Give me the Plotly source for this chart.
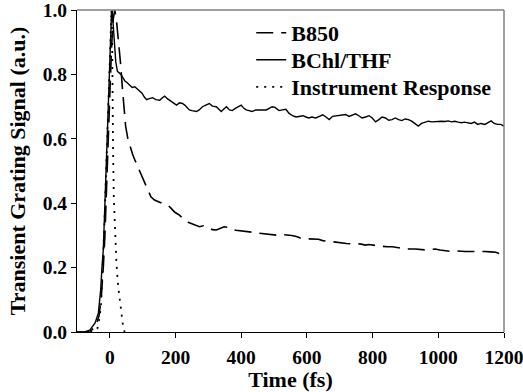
import plotly.graph_objects as go

# ---- data ----
bchl_t = [-100, -95, -75, -61, -45, -35, -28, -24, -20, -15, -8, -4, -1, 2, 5, 7, 10, 14, 18, 23, 28, 34, 40, 46,
          52, 61, 68, 76, 84, 91, 98, 105, 112, 120, 130, 140, 152, 160, 167, 175, 182, 192, 203, 212, 221, 228,
          236, 242, 250, 264, 272, 282, 292, 303, 312, 324, 332, 339, 347, 355, 364, 373, 382, 391, 400, 408, 415,
          424, 433, 444, 455, 466, 476, 485, 494, 503, 515, 525, 536, 545, 556, 567, 578, 588, 597, 606, 615, 627,
          638, 648, 658, 668, 678, 688, 698, 708, 718, 728, 738, 748, 758, 768, 779, 789, 799, 809, 819, 829, 839,
          849, 859, 869, 879, 889, 899, 909, 919, 929, 939, 949, 960, 970, 980, 990, 1000, 1010, 1020, 1030, 1040,
          1050, 1061, 1070, 1080, 1090, 1100, 1110, 1120, 1130, 1142, 1150, 1161, 1170, 1180, 1190, 1200]
bchl_v = [0.0, 0.0, 0.001, 0.006, 0.028, 0.058, 0.13, 0.2, 0.255, 0.40, 0.62, 0.72, 0.82, 0.92, 0.99, 1.0, 0.96,
          0.9, 0.84, 0.81, 0.805, 0.80, 0.79, 0.78, 0.775, 0.767, 0.76, 0.762, 0.755, 0.75, 0.742, 0.73, 0.722,
          0.725, 0.728, 0.722, 0.72, 0.728, 0.733, 0.725, 0.72, 0.712, 0.705, 0.712, 0.71, 0.705, 0.695, 0.69,
          0.688, 0.685, 0.69, 0.70, 0.705, 0.71, 0.702, 0.70, 0.692, 0.685, 0.693, 0.70, 0.69, 0.688, 0.695, 0.70,
          0.705, 0.695, 0.69, 0.688, 0.685, 0.69, 0.69, 0.692, 0.69, 0.695, 0.70, 0.698, 0.688, 0.69, 0.692, 0.68,
          0.672, 0.668, 0.67, 0.672, 0.668, 0.665, 0.668, 0.665, 0.67, 0.675, 0.668, 0.66, 0.67, 0.672, 0.672,
          0.675, 0.676, 0.67, 0.675, 0.678, 0.672, 0.665, 0.668, 0.672, 0.665, 0.653, 0.66, 0.668, 0.665, 0.658,
          0.66, 0.665, 0.66, 0.657, 0.662, 0.66, 0.655, 0.648, 0.64, 0.648, 0.652, 0.655, 0.653, 0.654, 0.655,
          0.655, 0.654, 0.656, 0.653, 0.655, 0.652, 0.65, 0.652, 0.65, 0.648, 0.652, 0.645, 0.648, 0.645, 0.65,
          0.656, 0.648, 0.645, 0.645, 0.64]

b850_t = [-100, -95, -70, -55, -42, -33, -26, -20, -15, -10, -5, 0, 5, 10, 15, 20, 27, 33, 38, 42, 48, 55, 62, 70,
          78, 85, 95, 106, 115, 125, 136, 145, 155, 165, 176, 186, 198, 212, 225, 240, 252, 263, 273, 285, 298,
          312, 324, 336, 348, 360, 372, 384, 394, 405, 420, 435, 455, 470, 485, 500, 515, 530, 542, 554, 568, 580,
          592, 606, 620, 635, 648, 658, 670, 682, 694, 706, 720, 736, 750, 765, 778, 788, 800, 815, 830, 845, 860,
          879, 895, 910, 930, 945, 960, 975, 991, 1005, 1020, 1039, 1055, 1070, 1082, 1100, 1120, 1142, 1160,
          1175, 1185, 1200]
b850_v = [0.0, 0.0, 0.001, 0.006, 0.02, 0.05, 0.11, 0.2, 0.3, 0.45, 0.6, 0.75, 0.88, 0.97, 1.0, 0.97, 0.9, 0.83,
          0.76, 0.70, 0.64, 0.60, 0.575, 0.55, 0.53, 0.513, 0.49, 0.462, 0.44, 0.42, 0.41, 0.405, 0.402, 0.40,
          0.395, 0.385, 0.372, 0.363, 0.35, 0.34, 0.335, 0.332, 0.327, 0.33, 0.325, 0.318, 0.317, 0.322, 0.327,
          0.325, 0.318, 0.316, 0.315, 0.315, 0.312, 0.31, 0.307, 0.305, 0.302, 0.30, 0.30, 0.302, 0.302, 0.30,
          0.297, 0.292, 0.29, 0.289, 0.29, 0.288, 0.284, 0.282, 0.281, 0.28, 0.278, 0.276, 0.275, 0.274, 0.275,
          0.273, 0.27, 0.272, 0.27, 0.268, 0.266, 0.265, 0.265, 0.262, 0.26, 0.258, 0.258, 0.256, 0.255, 0.256,
          0.258, 0.255, 0.252, 0.25, 0.252, 0.25, 0.25, 0.25, 0.251, 0.25, 0.249, 0.248, 0.244, 0.242]

ir_t = [-60, -45, -38, -33, -27, -22, -17, -12, -7, -2, 2, 5, 7, 8, 10, 12, 15, 20, 25, 30, 35, 40, 45, 50]
ir_v = [0.0, 0.004, 0.01, 0.036, 0.08, 0.18, 0.32, 0.48, 0.65, 0.82, 0.94, 1.0, 0.9, 0.72, 0.55, 0.42, 0.32,
        0.215, 0.145, 0.10, 0.045, 0.02, 0.0, 0.0]

x_ticks = [0, 200, 400, 600, 800, 1000, 1200]
y_ticks = [0.0, 0.2, 0.4, 0.6, 0.8, 1.0]
y_tick_text = ["0.0", "0.2", "0.4", "0.6", "0.8", "1.0"]

FONT = "'Liberation Serif', serif"
TICKFONT = dict(family=FONT, size=19.5, weight="bold", color="black")
TITLEFONT = dict(family=FONT, size=22, weight="bold", color="black")
LEGFONT = dict(family=FONT, size=22, weight="bold", color="black")

fig = go.Figure()
fig.add_trace(go.Scatter(x=b850_t, y=b850_v, mode="lines", name="B850", legend="legend",
                         line=dict(color="black", width=1.6, dash="17px,8px")))
fig.add_trace(go.Scatter(x=bchl_t, y=bchl_v, mode="lines", name="BChl/THF", legend="legend2",
                         line=dict(color="black", width=1.4)))
fig.add_trace(go.Scatter(x=ir_t, y=ir_v, mode="lines", name="Instrument Response", legend="legend3",
                         line=dict(color="black", width=1.8, dash="2px,6px")))

leg_common = dict(x=0.408, xanchor="left", yanchor="middle", bgcolor="rgba(0,0,0,0)",
                  font=LEGFONT, itemwidth=30)

fig.update_layout(
    width=523, height=392,
    margin=dict(l=77, r=19, t=10, b=60, autoexpand=False),
    paper_bgcolor="white", plot_bgcolor="white",
    font=dict(family=FONT, color="black", size=19, weight="bold"),
    showlegend=True,
    legend=dict(y=0.9286, **leg_common),
    legend2=dict(y=0.8447, **leg_common),
    legend3=dict(y=0.7609, **leg_common),
    xaxis=dict(range=[-100, 1200], tickvals=x_ticks, ticks="outside", ticklen=5, tickcolor="black",
               showline=True, linecolor="black", linewidth=1, showgrid=False, zeroline=False,
               automargin=False, ticklabeloverflow="allow", ticklabelstandoff=3, tickfont=TICKFONT,
               title=dict(text="Time (fs)", font=TITLEFONT, standoff=7)),
    yaxis=dict(range=[0, 1.0005], tickvals=y_ticks, ticktext=y_tick_text, ticks="outside", ticklen=5,
               tickcolor="black", showline=True, linecolor="black", linewidth=1, showgrid=False,
               zeroline=False, automargin=False, ticklabeloverflow="allow", tickfont=TICKFONT,
               title=dict(text="Transient Grating Signal (a.u.)", font=TITLEFONT, standoff=11)),
    shapes=[
        dict(type="line", xref="paper", yref="paper", x0=0, x1=1, y0=1, y1=1,
             line=dict(color="#808080", width=1.5)),
        dict(type="line", xref="paper", yref="paper", x0=1, x1=1, y0=0, y1=1,
             line=dict(color="#808080", width=1.5)),
    ],
)

fig.write_html("out.html", config={"displayModeBar": False},
               post_script="document.body.style.margin='0px';")
